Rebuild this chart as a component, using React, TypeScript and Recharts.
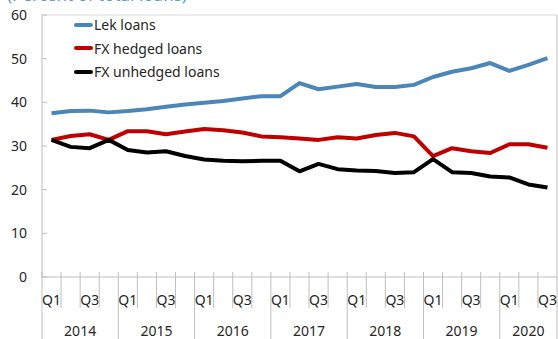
import { LineChart, Line, XAxis, YAxis, Legend, Customized } from 'recharts';

// Chart geometry (fixed size)
const W = 558;
const H = 339;
const PLOT_LEFT = 42;
const PLOT_RIGHT = 557;
const PLOT_TOP = 15;
const PLOT_BOTTOM = 277;
const FONT = '"Noto Sans", "Open Sans", sans-serif';
const TEXT = '#262626';
const AXIS = '#BFBFBF';

const years = ['2014', '2015', '2016', '2017', '2018', '2019', '2020'];
const quarterNames = ['Q1', 'Q2', 'Q3', 'Q4'];
const shownQuarters = ['Q1', 'Q3'];
const lastYearQuarters = 3;

const lekLoans = [
  37.5, 38.0, 38.1, 37.7, 38.0, 38.4, 39.0, 39.5, 39.9, 40.3, 40.9, 41.4, 41.4, 44.4,
  43.0, 43.6, 44.2, 43.5, 43.5, 44.0, 45.8, 47.0, 47.8, 49.0, 47.2, 48.6, 50.1,
];
const fxHedged = [
  31.4, 32.3, 32.7, 31.4, 33.4, 33.4, 32.7, 33.3, 33.9, 33.6, 33.1, 32.2, 32.0, 31.7,
  31.4, 32.0, 31.7, 32.5, 33.0, 32.2, 27.7, 29.5, 28.8, 28.4, 30.4, 30.4, 29.6,
];
const fxUnhedged = [
  31.4, 29.8, 29.5, 31.4, 29.1, 28.5, 28.8, 27.7, 26.9, 26.6, 26.5, 26.6, 26.6, 24.2,
  25.9, 24.7, 24.4, 24.3, 23.8, 24.0, 27.0, 24.0, 23.8, 23.0, 22.8, 21.2, 20.5,
];
const yTicks = [0, 10, 20, 30, 40, 50, 60];

const series = [
  { key: 'lek', name: 'Lek loans', color: '#4A86B8', values: lekLoans },
  { key: 'hedged', name: 'FX hedged loans', color: '#C00000', values: fxHedged },
  { key: 'unhedged', name: 'FX unhedged loans', color: '#000000', values: fxUnhedged },
];

const data = years.flatMap((year, yi) => {
  const n = yi === years.length - 1 ? lastYearQuarters : quarterNames.length;
  return quarterNames.slice(0, n).map((q) => ({ year, quarter: q, key: `${year}-${q}` }));
}).map((row, i) => ({
  ...row,
  lek: lekLoans[i],
  hedged: fxHedged[i],
  unhedged: fxUnhedged[i],
}));

const band = (PLOT_RIGHT - PLOT_LEFT) / data.length;

function XTick(props: any) {
  const { x, index } = props;
  const row = data[index];
  if (!row) return null;
  const lx = x - band / 2;
  const isFirstQuarter = row.quarter === 'Q1';
  const isLast = index === data.length - 1;
  const inYear = data.filter((d) => d.year === row.year).length;
  return (
    <g>
      <line x1={lx} x2={lx} y1={PLOT_BOTTOM - 5} y2={isFirstQuarter ? H : PLOT_BOTTOM + 31} stroke={AXIS} />
      {isLast && <line x1={x + band / 2} x2={x + band / 2} y1={PLOT_TOP} y2={H} stroke={AXIS} />}
      {shownQuarters.includes(row.quarter) && (
        <text x={x} y={305} textAnchor="middle" fontSize={14} fill={TEXT} fontFamily={FONT}>
          {row.quarter}
        </text>
      )}
      {isFirstQuarter && (
        <text x={lx + (band * inYear) / 2} y={336} textAnchor="middle" fontSize={14} fill={TEXT} fontFamily={FONT}>
          {row.year}
        </text>
      )}
    </g>
  );
}

function YTick(props: any) {
  const { y, payload } = props;
  return (
    <g>
      <line x1={PLOT_LEFT} x2={PLOT_LEFT + 5} y1={y} y2={y} stroke={AXIS} />
      <text x={27} y={y} dy="0.35em" textAnchor="end" fontSize={14} fill={TEXT} fontFamily={FONT}>
        {payload.value}
      </text>
    </g>
  );
}

function LegendBox() {
  return (
    <div style={{ fontFamily: FONT, fontSize: 14, color: TEXT, lineHeight: '23.5px' }}>
      {series.map((s) => (
        <div key={s.key} style={{ display: 'flex', alignItems: 'center', height: 23.5 }}>
          <span style={{ display: 'inline-block', width: 19, height: 4, background: s.color, borderRadius: 2, marginRight: 1 }} />
          <span>{s.name}</span>
        </div>
      ))}
    </div>
  );
}

function Frame() {
  return (
    <g>
      <line x1={PLOT_LEFT} x2={PLOT_RIGHT} y1={PLOT_TOP} y2={PLOT_TOP} stroke="#D9D9D9" />
      <text x={7} y={1} fontSize={17} fill="#5B9BD5" fontFamily={FONT}>
        (Percent of total loans)
      </text>
    </g>
  );
}

export default function App() {
  return (
    <div style={{ position: 'fixed', left: 0, top: 0, width: W, height: H, background: '#fff' }}>
      <LineChart width={W} height={H} data={data} margin={{ top: PLOT_TOP, right: W - PLOT_RIGHT, bottom: 0, left: 0 }}>
        <XAxis
          dataKey="key"
          height={H - PLOT_BOTTOM}
          interval={0}
          padding={{ left: band / 2, right: band / 2 }}
          tickLine={false}
          axisLine={{ stroke: AXIS }}
          tick={<XTick />}
        />
        <YAxis
          domain={[0, 60]}
          ticks={yTicks}
          width={PLOT_LEFT}
          tickLine={false}
          axisLine={{ stroke: AXIS }}
          tick={<YTick />}
        />
        <Customized component={Frame} />
        <Legend
          layout="vertical"
          align="center"
          verticalAlign="middle"
          wrapperStyle={{ position: 'absolute', left: 74, top: 13, width: 200 }}
          content={<LegendBox />}
        />
        {series.map((s) => (
          <Line
            key={s.key}
            dataKey={s.key}
            name={s.name}
            stroke={s.color}
            strokeWidth={4}
            dot={false}
            type="linear"
            strokeLinejoin="round"
            isAnimationActive={false}
          />
        ))}
      </LineChart>
    </div>
  );
}
